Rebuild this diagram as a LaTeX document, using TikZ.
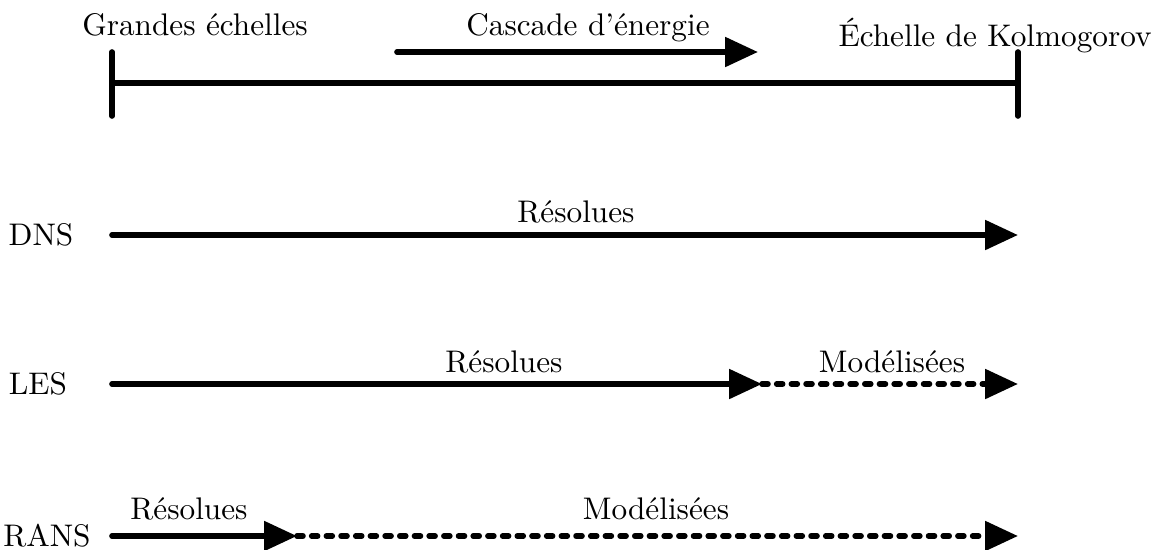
\documentclass[tikz,border=0pt]{standalone}
\usetikzlibrary{arrows.meta}
\begin{document}
\begin{tikzpicture}[x=0.32pt,y=-0.32pt,
  bar/.style={line width=1.8pt,line cap=round},
  solidarrow/.style={line width=1.8pt,line cap=round,-{Triangle[length=10.5pt,width=9.2pt]}},
  dasharrow/.style={line width=1.8pt,line cap=round,dash pattern=on 1.9pt off 2.8pt,-{Triangle[length=10.5pt,width=9.2pt]}},
  lbl/.style={anchor=base,inner sep=0pt,font=\fontsize{10}{12}\selectfont},
  side/.style={anchor=center,inner sep=0pt,font=\fontsize{10}{12}\selectfont}]
\useasboundingbox (0,0) rectangle (1168,549);
% top scale
\coordinate (tl) at (112,52);
\coordinate (bl) at (112,116);
\coordinate (tr) at (1018,52);
\coordinate (br) at (1018,116);
\coordinate (ml) at (112,83);
\coordinate (mr) at (1018,83);
\draw[bar] (tl) -- (bl);
\draw[bar] (tr) -- (br);
\draw[bar] (ml) -- (mr);
\coordinate (cs) at (397,52);
\coordinate (ce) at (758,52);
\draw[solidarrow] (cs) -- (ce);
\node[lbl] (ge) at (195,35) {Grandes échelles};
\node[lbl] (ce-t) at (588,35) {Cascade d'énergie};
\node[lbl] (ko) at (995,46) {Échelle de Kolmogorov};
% DNS
\node[side] (dns) at (41,235) {DNS};
\coordinate (d0) at (112,235);
\coordinate (d1) at (1018,235);
\draw[solidarrow] (d0) -- (d1);
\node[lbl] (dr) at (576,222) {Résolues};
% LES
\node[side] (les) at (38,384) {LES};
\coordinate (l0) at (112,384);
\coordinate (l1) at (762,384);
\coordinate (l2) at (1018,384);
\draw[solidarrow] (l0) -- (l1);
\draw[dasharrow] (l1) -- (l2);
\node[lbl] (lr) at (504,372) {Résolues};
\node[lbl] (lm) at (892,372) {Modélisées};
% RANS
\node[side] (rans) at (47,536) {RANS};
\coordinate (r0) at (112,536);
\coordinate (r1) at (297,536);
\coordinate (r2) at (1018,536);
\draw[solidarrow] (r0) -- (r1);
\draw[dasharrow] (r1) -- (r2);
\node[lbl] (rr) at (189,519) {Résolues};
\node[lbl] (rm) at (656,519) {Modélisées};
\end{tikzpicture}
\end{document}
